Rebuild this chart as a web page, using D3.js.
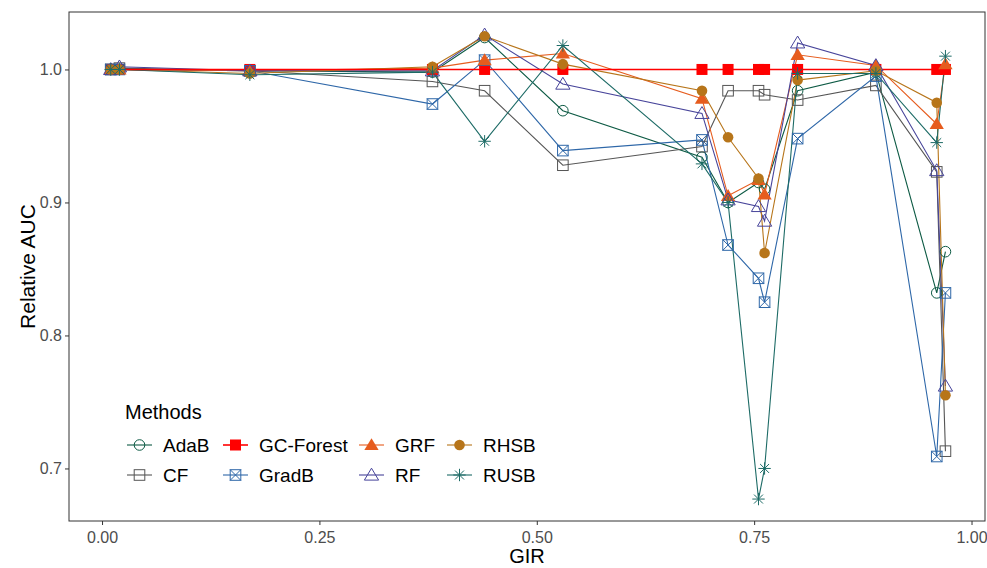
<html>
<head>
<title>Relative AUC vs GIR</title>
<style>
  body { margin: 0; background: #fff; }
  text { font-family: "Liberation Sans", Arial, sans-serif; }
</style>
</head>
<body>
<svg width="987" height="568"></svg>
<script src="https://d3js.org/d3.v7.min.js"></script>
<script>
// data
var gir = [0.01, 0.02, 0.17, 0.38, 0.44, 0.53, 0.69, 0.72, 0.755, 0.762, 0.80, 0.89, 0.96, 0.97];

var methods = ["AdaB", "CF", "GC-Forest", "GradB", "GRF", "RF", "RHSB", "RUSB"];

var adab  = [1.000, 1.000, 0.999, 0.998, 1.024, 0.969, 0.934, 0.900, 0.915, 0.910, 0.984, 0.998, 0.832, 0.863];
var cf    = [1.000, 1.001, 0.999, 0.991, 0.984, 0.928, 0.942, 0.984, 0.984, 0.981, 0.977, 0.988, 0.923, 0.713];
var gcf   = [1.000, 1.000, 1.000, 1.000, 1.000, 1.000, 1.000, 1.000, 1.000, 1.000, 1.000, 1.000, 1.000, 1.000];
var gradb = [1.000, 1.000, 0.999, 0.974, 1.007, 0.939, 0.947, 0.868, 0.843, 0.825, 0.948, 0.995, 0.709, 0.832];
var grf   = [1.000, 1.000, 0.999, 1.001, 1.007, 1.012, 0.978, 0.905, 0.917, 0.906, 1.011, 1.003, 0.959, 1.004];
var rf    = [1.000, 1.002, 0.999, 0.999, 1.026, 0.989, 0.967, 0.902, 0.897, 0.886, 1.020, 1.003, 0.924, 0.762];
var rhsb  = [1.000, 1.000, 0.997, 1.002, 1.025, 1.004, 0.984, 0.949, 0.918, 0.862, 0.992, 0.999, 0.975, 0.755];
var rusb  = [1.000, 1.000, 0.996, 0.998, 0.946, 1.018, 0.929, 0.900, 0.677, 0.700, 0.997, 0.997, 0.945, 1.010];

var values = [adab, cf, gcf, gradb, grf, rf, rhsb, rusb];

var xTicks = [0, 0.25, 0.5, 0.75, 1.0];
var yTicks = [0.7, 0.8, 0.9, 1.0];

var colors = ["#0d5a44", "#555555", "#ff0000", "#2e67a8", "#e65c1e", "#47449a", "#b7751a", "#1d6b66"];
var shapes = ["circleOpen", "squareOpen", "squareFill", "squareX", "triFill", "triOpen", "circleFill", "asterisk"];

var svg = d3.select("svg");
var pL = 69, pR = 985, pT = 12, pB = 521;

var x = d3.scaleLinear().domain([-0.038, 1.0155]).range([pL, pR]);
var y = d3.scaleLinear().domain([0.6605, 1.0432]).range([pB, pT]);

// axes
var xAxis = svg.append("g").attr("transform", "translate(0," + pB + ")")
  .call(d3.axisBottom(x).tickValues(xTicks).tickFormat(d3.format(".2f")).tickSize(4).tickSizeOuter(0));
var yAxis = svg.append("g").attr("transform", "translate(" + pL + ",0)")
  .call(d3.axisLeft(y).tickValues(yTicks).tickFormat(d3.format(".1f")).tickSize(4).tickSizeOuter(0));
[xAxis, yAxis].forEach(function(a) {
  a.select(".domain").remove();
  a.selectAll(".tick line").attr("stroke", "#333").attr("stroke-width", 1);
  a.selectAll(".tick text").attr("fill", "#4d4d4d").style("font-size", "16px")
    .style("font-family", "'Liberation Sans', Arial, sans-serif");
});
xAxis.selectAll(".tick text").attr("dy", "0.95em");

svg.append("rect").attr("x", pL).attr("y", pT)
  .attr("width", pR - pL).attr("height", pB - pT)
  .attr("fill", "none").attr("stroke", "#333").attr("stroke-width", 1);

svg.append("text").attr("x", (pL + pR) / 2).attr("y", 563)
  .attr("text-anchor", "middle").style("font-size", "20px").text("GIR");
svg.append("text").attr("transform", "translate(35," + ((pT + pB) / 2) + ") rotate(-90)")
  .attr("text-anchor", "middle").style("font-size", "21px").text("Relative AUC");

function drawShape(g, shape, color, cx, cy) {
  var s = 5.3;
  if (shape === "circleOpen") {
    g.append("circle").attr("cx", cx).attr("cy", cy).attr("r", s)
      .attr("fill", "none").attr("stroke", color).attr("stroke-width", 1);
  } else if (shape === "circleFill") {
    g.append("circle").attr("cx", cx).attr("cy", cy).attr("r", s)
      .attr("fill", color);
  } else if (shape === "squareOpen" || shape === "squareX") {
    g.append("rect").attr("x", cx - s).attr("y", cy - s).attr("width", 2 * s).attr("height", 2 * s)
      .attr("fill", "none").attr("stroke", color).attr("stroke-width", 1);
    if (shape === "squareX") {
      g.append("path").attr("d", "M" + (cx - s) + "," + (cy - s) + "L" + (cx + s) + "," + (cy + s) +
        "M" + (cx - s) + "," + (cy + s) + "L" + (cx + s) + "," + (cy - s))
        .attr("stroke", color).attr("stroke-width", 1);
    }
  } else if (shape === "squareFill") {
    g.append("rect").attr("x", cx - 5.5).attr("y", cy - 5.5).attr("width", 11).attr("height", 11)
      .attr("fill", color);
  } else if (shape === "triFill" || shape === "triOpen") {
    var h = 6.8;
    var p = "M" + cx + "," + (cy - h) + "L" + (cx + h * 1.05) + "," + (cy + h * 0.75) +
      "L" + (cx - h * 1.05) + "," + (cy + h * 0.75) + "Z";
    if (shape === "triFill") g.append("path").attr("d", p).attr("fill", color);
    else g.append("path").attr("d", p).attr("fill", "none").attr("stroke", color).attr("stroke-width", 1);
  } else if (shape === "asterisk") {
    var r = 6.2;
    var d = "M" + (cx - r) + "," + cy + "L" + (cx + r) + "," + cy +
      "M" + cx + "," + (cy - r) + "L" + cx + "," + (cy + r) +
      "M" + (cx - r * 0.72) + "," + (cy - r * 0.72) + "L" + (cx + r * 0.72) + "," + (cy + r * 0.72) +
      "M" + (cx - r * 0.72) + "," + (cy + r * 0.72) + "L" + (cx + r * 0.72) + "," + (cy - r * 0.72);
    g.append("path").attr("d", d).attr("stroke", color).attr("stroke-width", 1);
  }
}

var line = d3.line().x(function(d) { return x(d[0]); }).y(function(d) { return y(d[1]); });

var plot = svg.append("g");
// lines first (GC-Forest last so its flat red line stays visible), then markers
var lineOrder = [0, 1, 3, 4, 5, 6, 7, 2];
lineOrder.forEach(function(i) {
  var vals = values[i];
  plot.append("path").datum(gir.map(function(g, j) { return [g, vals[j]]; }))
    .attr("d", line).attr("fill", "none").attr("stroke", colors[i])
    .attr("stroke-width", i === 2 ? 1.6 : 1.1);
});
values.forEach(function(vals, i) {
  var g = plot.append("g");
  gir.forEach(function(gv, j) {
    drawShape(g, shapes[i], colors[i], x(gv), y(vals[j]));
  });
});

// legend
var legend = svg.append("g");
legend.append("text").attr("x", 125).attr("y", 419).style("font-size", "20px").text("Methods");
var colX = [127, 223, 359, 447];
var rowY = [445, 475];
methods.forEach(function(m, i) {
  var col = Math.floor(i / 2), row = i % 2;
  var kx = colX[col], ky = rowY[row];
  legend.append("line").attr("x1", kx).attr("x2", kx + 25).attr("y1", ky).attr("y2", ky)
    .attr("stroke", colors[i]).attr("stroke-width", i === 2 ? 1.6 : 1.1);
  drawShape(legend, shapes[i], colors[i], kx + 12.5, ky);
  legend.append("text").attr("x", kx + 36).attr("y", ky + 7).style("font-size", "19px").text(m);
});
</script>
</body>
</html>
